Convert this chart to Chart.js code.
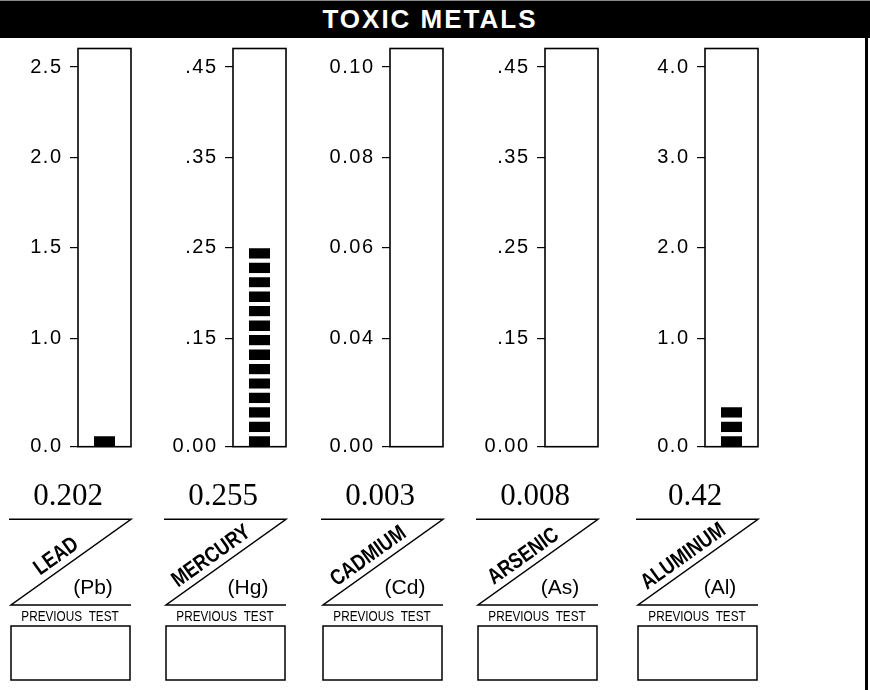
<!DOCTYPE html>
<html lang="en">
<head>
  <meta charset="UTF-8" />
  <title>Toxic Metals</title>
  <script src="https://cdn.jsdelivr.net/npm/chart.js"></script>
  <style>
    body {
      margin: 0;
      width: 870px;
      height: 690px;
      overflow: hidden;
      background: #fff;
      position: relative;
      font-family: "Liberation Sans", Arial, sans-serif;
    }

    .title {
      position: absolute;
      left: 0;
      top: 0;
      width: 860px;
      height: 37px;
      padding-right: 10px;
      border-top: 1px solid #888;
      background: #000;
      color: #fff;
      font-weight: bold;
      font-size: 26px;
      line-height: 37px;
      letter-spacing: 2px;
      text-align: center;
    }

    .right-edge {
      position: absolute;
      left: 865px;
      top: 38px;
      width: 3px;
      height: 652px;
      background: #000;
    }

    canvas {
      position: absolute;
      top: 40px;
    }
  </style>
</head>
<body>
  <div class="title">TOXIC METALS</div>
  <div class="right-edge"></div>

  <canvas id="c0" width="134" height="650"></canvas>
  <canvas id="c1" width="134" height="650"></canvas>
  <canvas id="c2" width="134" height="650"></canvas>
  <canvas id="c3" width="134" height="650"></canvas>
  <canvas id="c4" width="134" height="650"></canvas>

  <script>
    // valores
    const metals = ["LEAD", "MERCURY", "CADMIUM", "ARSENIC", "ALUMINUM"];
    const symbols = ["(Pb)", "(Hg)", "(Cd)", "(As)", "(Al)"];
    const results = [0.202, 0.255, 0.003, 0.008, 0.42];
    const resultText = ["0.202", "0.255", "0.003", "0.008", "0.42"];
    const tickValues = [
      [0, 1.0, 1.5, 2.0, 2.5],
      [0, 0.15, 0.25, 0.35, 0.45],
      [0, 0.04, 0.06, 0.08, 0.10],
      [0, 0.15, 0.25, 0.35, 0.45],
      [0, 1.0, 2.0, 3.0, 4.0]
    ];
    const tickLabels = [
      ["0.0", "1.0", "1.5", "2.0", "2.5"],
      ["0.00", ".15", ".25", ".35", ".45"],
      ["0.00", "0.04", "0.06", "0.08", "0.10"],
      ["0.00", ".15", ".25", ".35", ".45"],
      ["0.0", "1.0", "2.0", "3.0", "4.0"]
    ];

    // escala do gráfico: posição de cada marca (a primeira faixa é mais alta)
    const TICK_POS = [0, 1.2, 2.2, 3.2, 4.2];
    const TOP = 4.405;
    const BLOCK = 0.16;

    // borda direita de cada coluna (layout)
    const colRight = [131, 286, 443, 598, 758];

    const SANS = '"Liberation Sans", Arial, sans-serif';
    const SERIF = '"Liberation Serif", "Times New Roman", serif';

    function toPos(v, tv) {
      for (let i = 1; i < tv.length; i++) {
        if (v <= tv[i]) {
          return TICK_POS[i - 1] + (v - tv[i - 1]) / (tv[i] - tv[i - 1]) * (TICK_POS[i] - TICK_POS[i - 1]);
        }
      }
      return TICK_POS[TICK_POS.length - 1];
    }

    function blockSets(n) {
      const sets = [];
      for (let k = 0; k < n; k++) {
        sets.push({
          data: [BLOCK],
          backgroundColor: "#000",
          borderColor: "#fff",
          borderWidth: { top: 4, bottom: 0, left: 0, right: 0 },
          borderSkipped: false,
          inflateAmount: 0,
          barThickness: 21,
          stack: "nivel"
        });
      }
      return sets;
    }

    function panelPlugin(i) {
      return {
        id: "painel" + i,
        beforeDraw(chart) {
          chart.ctx.letterSpacing = "1.5px";
        },
        beforeDatasetsDraw(chart) {
          chart.ctx.letterSpacing = "0px";
        },
        afterDraw(chart) {
          const ctx = chart.ctx;
          const a = chart.chartArea;
          const R = a.right;
          ctx.save();
          ctx.letterSpacing = "0px";
          ctx.strokeStyle = "#000";
          ctx.fillStyle = "#000";

          // moldura da barra
          ctx.lineWidth = 1.6;
          ctx.strokeRect(a.left, a.top, a.right - a.left, a.bottom - a.top);

          // resultado
          ctx.font = "31px " + SERIF;
          ctx.textAlign = "center";
          ctx.textBaseline = "alphabetic";
          ctx.fillText(resultText[i], R - 63, 464.5);

          // linhas do rótulo diagonal
          const yTop = 479.3, yBot = 565;
          ctx.lineWidth = 1.5;
          ctx.beginPath();
          ctx.moveTo(R - 122, yTop);
          ctx.lineTo(R, yTop);
          ctx.lineTo(R - 120, yBot);
          ctx.lineTo(R, yBot);
          ctx.stroke();

          // nome do metal ao longo da diagonal
          const dx = 120, dy = yBot - yTop;
          const len = Math.hypot(dx, dy);
          const nx = -dy / len, ny = -dx / len;
          const fx = R - 67;
          const fy = yBot - (fx - (R - 120)) / dx * dy;
          ctx.save();
          ctx.translate(fx + nx * 7, fy + ny * 7);
          ctx.rotate(-Math.atan2(dy, dx));
          ctx.scale(0.86, 1.05);
          ctx.font = "bold 21px " + SANS;
          ctx.textAlign = "center";
          ctx.fillText(metals[i], 0, 0);
          ctx.restore();

          // símbolo
          ctx.font = "21px " + SANS;
          ctx.textAlign = "center";
          ctx.textBaseline = "middle";
          ctx.fillText(symbols[i], R - 38, 548);

          // teste anterior
          ctx.save();
          ctx.translate(R - 61, 577);
          ctx.scale(0.84, 1);
          ctx.font = "14px " + SANS;
          ctx.fillText("PREVIOUS  TEST", 0, 0);
          ctx.restore();

          ctx.lineWidth = 1.5;
          ctx.strokeRect(R - 120, 586, 119, 54);
          ctx.restore();
        }
      };
    }

    metals.forEach((name, i) => {
      const canvas = document.getElementById("c" + i);
      canvas.style.left = (colRight[i] - 130) + "px";
      const n = Math.floor(toPos(results[i], tickValues[i]) / BLOCK + 1e-9);

      new Chart(canvas, {
        type: "bar",
        data: {
          labels: [name],
          datasets: blockSets(n)
        },
        options: {
          responsive: false,
          animation: false,
          devicePixelRatio: 1,
          layout: { padding: { top: 8.5, bottom: 243.3, left: 0, right: 4 } },
          plugins: {
            legend: { display: false },
            tooltip: { enabled: false }
          },
          scales: {
            x: { display: false, stacked: true },
            y: {
              stacked: true,
              min: 0,
              max: TOP,
              afterFit: s => {
                s.width = 77;
                s.paddingTop = 0;
                s.paddingBottom = 0;
              },
              afterBuildTicks: s => { s.ticks = TICK_POS.map(v => ({ value: v })); },
              ticks: {
                autoSkip: false,
                padding: 7.5,
                color: "#000",
                font: { family: SANS, size: 20 },
                callback: (v, k) => tickLabels[i][k]
              },
              grid: {
                drawOnChartArea: false,
                drawTicks: true,
                tickLength: 8,
                color: "#000",
                lineWidth: 1.2
              },
              border: { display: false }
            }
          }
        },
        plugins: [panelPlugin(i)]
      });
    });
  </script>
</body>
</html>
